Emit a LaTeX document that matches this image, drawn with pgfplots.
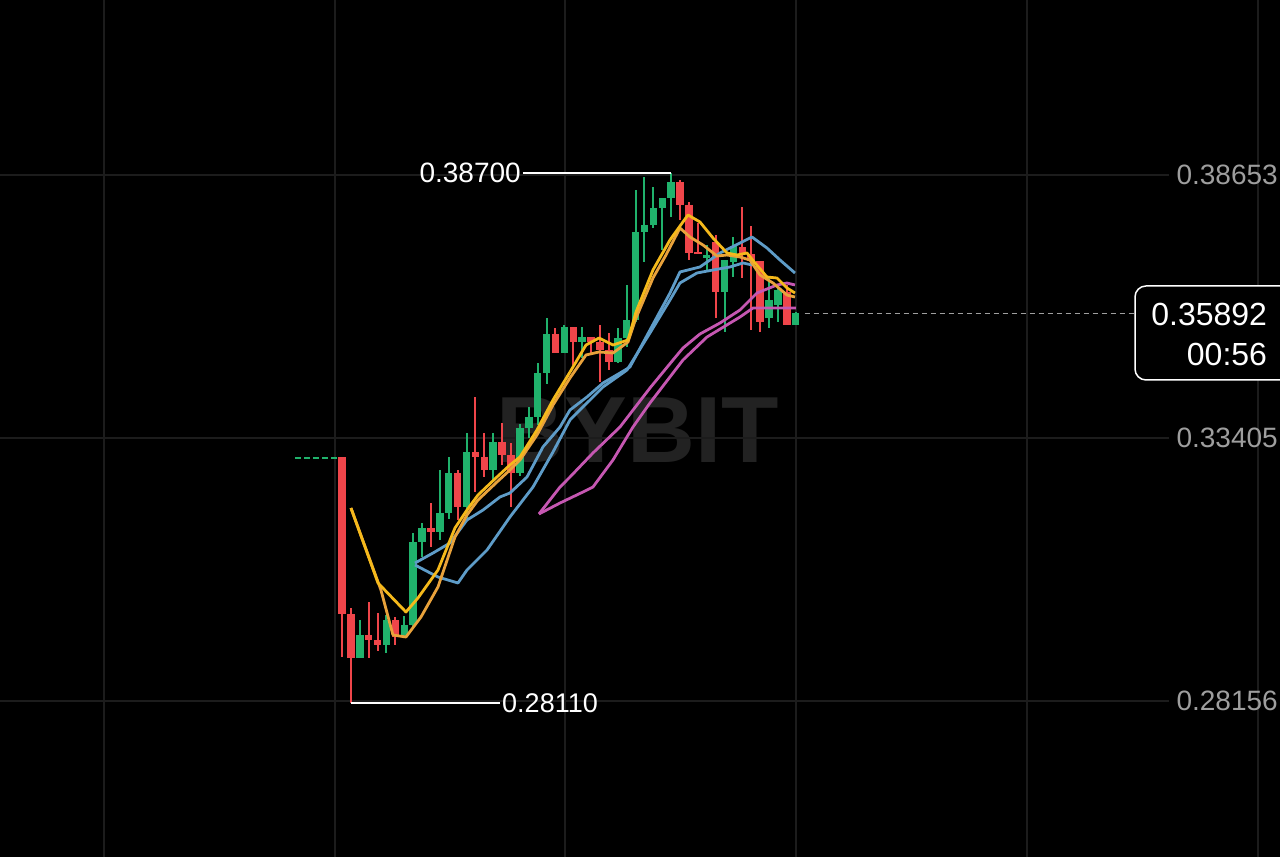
\documentclass[border=0pt]{standalone}
\usepackage{pgfplots}
\pgfplotsset{compat=1.18}
\usepackage{pgfplotstable}
\usepackage{fontspec}
\setmainfont{Liberation Sans}

\definecolor{upc}{HTML}{20B26C}
\definecolor{dnc}{HTML}{EF454A}
\definecolor{gridc}{HTML}{1C1C1C}
\definecolor{mayel}{HTML}{F5B91B}
\definecolor{maorg}{HTML}{E9A23B}
\definecolor{mablu}{HTML}{5E9CC8}
\definecolor{mamag}{HTML}{C657B2}
\definecolor{lblc}{HTML}{9E9E9E}
\definecolor{wmark}{HTML}{222222}

% rising candles: index, open, high, low, close
\pgfplotstableread{
i  o       h       l       c
2  0.29014 0.29772 0.29014 0.29473
5  0.29273 0.29872 0.29114 0.29772
7  0.29433 0.29852 0.29433 0.29673
8  0.29673 0.31509 0.29613 0.31329
9  0.31329 0.31708 0.31030 0.31608
11 0.31528 0.32766 0.31369 0.31908
12 0.31908 0.33025 0.31788 0.32706
14 0.32027 0.33504 0.31808 0.33125
17 0.32766 0.33504 0.32566 0.33324
20 0.32706 0.33684 0.32646 0.33604
21 0.33604 0.34023 0.33404 0.33823
22 0.33823 0.34901 0.33664 0.34701
23 0.34701 0.35799 0.34482 0.35480
25 0.35101 0.35659 0.35101 0.35619
27 0.35320 0.35619 0.35001 0.35420
31 0.34921 0.35599 0.34901 0.35400
32 0.35400 0.36458 0.35220 0.35759
33 0.35759 0.38353 0.35719 0.37515
34 0.37515 0.38613 0.36917 0.37655
35 0.37655 0.38413 0.37595 0.37994
36 0.37994 0.38194 0.37156 0.38194
37 0.38194 0.38700 0.37815 0.38513
41 0.36996 0.37256 0.36757 0.37056
43 0.36318 0.36956 0.35520 0.36956
44 0.36917 0.37415 0.36617 0.37236
48 0.35799 0.36597 0.35599 0.36158
49 0.36058 0.36398 0.35719 0.36358
51 0.35659 0.35919 0.35659 0.35892
}\upcandles

% falling candles
\pgfplotstableread{
i  o       h       l       c
0  0.33025 0.33025 0.29034 0.29892
1  0.29892 0.30012 0.28110 0.29014
3  0.29473 0.30132 0.29014 0.29373
4  0.29373 0.29912 0.29154 0.29273
6  0.29772 0.29832 0.29273 0.29433
10 0.31608 0.32107 0.31229 0.31528
13 0.32706 0.32766 0.31768 0.32027
15 0.33125 0.34223 0.32327 0.33025
16 0.33025 0.33504 0.32626 0.32766
18 0.33324 0.33704 0.32866 0.33065
19 0.33065 0.33305 0.32027 0.32706
24 0.35480 0.35599 0.35101 0.35101
26 0.35619 0.35619 0.34861 0.35320
28 0.35420 0.35420 0.35061 0.35320
29 0.35320 0.35659 0.34522 0.35160
30 0.35160 0.35500 0.34761 0.34921
38 0.38513 0.38553 0.37755 0.38054
39 0.38054 0.38114 0.36956 0.37096
40 0.37116 0.37695 0.37076 0.37076
42 0.37316 0.37455 0.35799 0.36318
45 0.37216 0.38014 0.36597 0.37076
46 0.37076 0.37635 0.35560 0.36937
47 0.36937 0.36937 0.35520 0.35719
50 0.36318 0.36458 0.35659 0.35659
}\dncandles

\pgfplotsset{
  wick/.style={draw=none, mark=none, forget plot,
    error bars/.cd, y dir=both, y explicit, error mark=none,
    error bar style={draw=#1, solid, line width=2pt}},
  body/.style={draw=none, mark=none, forget plot,
    error bars/.cd, y dir=both, y explicit, error mark=none,
    error bar style={draw=#1, solid, line width=7.5pt}},
  ma/.style={#1, line width=2.8pt, mark=none, forget plot, line join=round},
}

\begin{document}
\begin{tikzpicture}
\path[use as bounding box, fill=black] (0,0) rectangle (1280pt,857pt);
\begin{axis}[
  at={(0,0)}, anchor=south west,
  scale only axis, width=1280pt, height=857pt,
  xmin=-38.44, xmax=105.44, ymin=0.25043, ymax=0.42145,
  axis line style={draw=none}, tick style={draw=none},
  xtick={-26.75,-0.79,25.07,51.03,77.0,102.97}, xticklabel=\empty,
  ytick=\empty, xmajorgrids,
  grid style={color=gridc, line width=1.2pt},
  clip=false,
]
% watermark
\node[text=wmark, font=\bfseries\fontsize{94pt}{94pt}\selectfont]
  at (axis cs:33.27,0.33564) {BYBIT};

% horizontal grid lines stopping before the price labels
\draw[gridc, line width=1.2pt] (axis cs:-38.44,0.38653) -- (axis cs:93.0,0.38653);
\draw[gridc, line width=1.2pt] (axis cs:-38.44,0.33405) -- (axis cs:93.0,0.33405);
\draw[gridc, line width=1.2pt] (axis cs:-38.44,0.28156) -- (axis cs:93.0,0.28156);

% previous close marker and current price line
\addplot[upc, line width=2pt, dash pattern=on 6pt off 3pt, forget plot]
  coordinates {(-5.28,0.33005) (0,0.33005)};
\addplot[gray!75, line width=1.3pt, dash pattern=on 5pt off 4pt, forget plot]
  coordinates {(52.0,0.35892) (89.14,0.35892)};

% candles
\addplot[wick=upc] table[x=i, y expr={(\thisrow{h}+\thisrow{l})/2},
  y error expr={(\thisrow{h}-\thisrow{l})/2}] {\upcandles};
\addplot[body=upc] table[x=i, y expr={(\thisrow{o}+\thisrow{c})/2},
  y error expr={abs(\thisrow{c}-\thisrow{o})/2}] {\upcandles};
\addplot[wick=dnc] table[x=i, y expr={(\thisrow{h}+\thisrow{l})/2},
  y error expr={(\thisrow{h}-\thisrow{l})/2}] {\dncandles};
\addplot[body=dnc] table[x=i, y expr={(\thisrow{o}+\thisrow{c})/2},
  y error expr={abs(\thisrow{c}-\thisrow{o})/2}] {\dncandles};

% moving averages
\addplot[ma=mamag] coordinates {
(22.14,0.31888) (24.51,0.32426) (25.63,0.32626) (28.21,0.33105) (31.25,0.33624)
(34.62,0.34402) (37.21,0.34961) (38.33,0.35200) (40.24,0.35480) (42.49,0.35699)
(44.74,0.35959) (46.65,0.36298) (48.90,0.36458) (50.02,0.36497) (50.92,0.36458)};
\addplot[ma=mamag] coordinates {
(22.14,0.31888) (24.51,0.32107) (27.09,0.32327) (28.21,0.32426) (30.46,0.32965)
(32.71,0.33624) (34.62,0.34103) (38.33,0.34961) (41.03,0.35420) (44.74,0.35819)
(46.20,0.35999) (51.03,0.35999)};
\addplot[ma=mablu] coordinates {
(8.21,0.30910) (10.23,0.31109) (12.14,0.31309) (14.05,0.31768) (15.85,0.31967)
(17.76,0.32227) (18.88,0.32307) (20.80,0.32626) (22.59,0.33225) (24.51,0.33624)
(25.63,0.33963) (27.54,0.34223) (29.34,0.34502) (31.25,0.34701) (32.37,0.34821)
(34.62,0.35560) (36.87,0.36298) (37.99,0.36717) (40.24,0.36817) (42.49,0.37096)
(44.74,0.37296) (46.09,0.37415) (47.77,0.37196) (49.24,0.36956) (50.92,0.36697)};
\addplot[ma=mablu] coordinates {
(8.21,0.30870) (10.79,0.30630) (13.04,0.30511) (14.05,0.30770) (16.30,0.31169)
(18.88,0.31828) (21.47,0.32426) (23.72,0.33125) (25.63,0.33764) (27.54,0.34103)
(29.34,0.34422) (32.04,0.34761) (34.62,0.35500) (36.87,0.36158) (37.99,0.36497)
(39.90,0.36697) (41.70,0.36757) (43.62,0.36817) (45.08,0.36897) (46.09,0.36857)};
\addplot[ma=maorg] coordinates {
(1.01,0.32007) (4.38,0.30371) (5.73,0.29473) (7.19,0.29433) (8.88,0.29832)
(10.79,0.30431) (12.70,0.31429) (14.05,0.31868) (15.29,0.32167) (17.42,0.32526)
(18.88,0.32766) (20.01,0.32965) (21.92,0.33464) (23.72,0.34063) (25.63,0.34602)
(27.43,0.35061) (28.89,0.35121) (30.46,0.35101) (32.15,0.35320) (33.05,0.35799)
(34.96,0.36597) (36.42,0.37056) (37.99,0.37595) (39.12,0.37415) (40.58,0.37256)
(42.15,0.37036) (43.28,0.37056) (44.74,0.37016) (45.86,0.36956) (46.99,0.36657)
(48.45,0.36497) (50.02,0.36258) (50.92,0.36218)};
\addplot[ma=mayel] coordinates {
(1.01,0.32007) (4.05,0.30511) (7.19,0.29932) (8.54,0.30211) (10.79,0.30770)
(12.70,0.31608) (14.05,0.31967) (15.29,0.32267) (17.42,0.32626) (18.88,0.32866)
(20.01,0.33025) (21.92,0.33564) (23.72,0.34163) (25.63,0.34721) (27.43,0.35260)
(28.89,0.35400) (30.46,0.35260) (32.15,0.35360) (33.05,0.35919) (34.96,0.36757)
(36.87,0.37356) (38.89,0.37855) (40.24,0.37715) (41.70,0.37396) (43.28,0.37096)
(44.40,0.37056) (45.53,0.37096) (46.43,0.36897) (47.77,0.36617) (48.90,0.36597)
(50.02,0.36398) (50.92,0.36298)};

% high and low markers
\addplot[white, line width=2pt, forget plot] coordinates {(20.34,0.38700) (37.0,0.38700)};
\node[text=white, anchor=east, inner sep=0pt, font=\fontsize{28pt}{28pt}\selectfont]
  at (axis cs:20.12,0.38700) {0.38700};
\addplot[white, line width=2pt, forget plot] coordinates {(1.0,0.28110) (17.76,0.28110)};
\node[text=white, anchor=west, inner sep=0pt, font=\fontsize{27pt}{27pt}\selectfont]
  at (axis cs:17.99,0.28110) {0.28110};

% price scale labels
\node[text=lblc, anchor=east, inner sep=0pt, font=\fontsize{28pt}{28pt}\selectfont]
  at (axis cs:105.21,0.38653) {0.38653};
\node[text=lblc, anchor=east, inner sep=0pt, font=\fontsize{28pt}{28pt}\selectfont]
  at (axis cs:105.21,0.33405) {0.33405};
\node[text=lblc, anchor=east, inner sep=0pt, font=\fontsize{28pt}{28pt}\selectfont]
  at (axis cs:105.21,0.28156) {0.28156};

% current price box
\draw[white, line width=1.5pt, rounded corners=11pt, fill=black]
  (axis cs:89.14,0.34562) rectangle (axis cs:108.0,0.36438);
\node[text=white, anchor=east, inner sep=0pt, font=\fontsize{32pt}{32pt}\selectfont]
  at (axis cs:104.0,0.35879) {0.35892};
\node[text=white, anchor=east, inner sep=0pt, font=\fontsize{32pt}{32pt}\selectfont]
  at (axis cs:104.0,0.35061) {00:56};
\end{axis}
\end{tikzpicture}
\end{document}
